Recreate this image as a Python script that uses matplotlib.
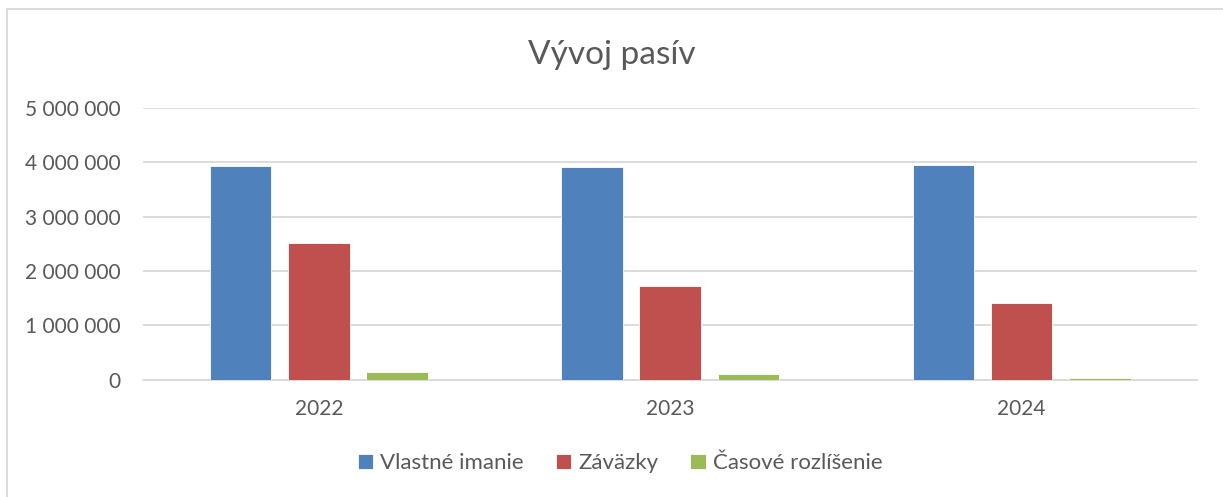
import numpy as np
from matplotlib import pyplot as plt
from matplotlib.patches import Rectangle
from matplotlib.ticker import FuncFormatter

plt.rcParams["font.family"] = ["Lato", "DejaVu Sans"]

years = ["2022", "2023", "2024"]
series_names = ["Vlastné imanie", "Záväzky", "Časové rozlíšenie"]
vlastne_imanie = [3_930_000, 3_920_000, 3_940_000]
zavazky = [2_510_000, 1_730_000, 1_420_000]
casove_rozlisenie = [140_000, 105_000, 25_000]
colors = ["#4f81bd", "#c0504d", "#9bbb59"]
text_color = "#595959"

fig = plt.figure(figsize=(12.23, 4.97), dpi=100)
ax = fig.add_axes([0.117, 0.236, 0.862, 0.547])

x = np.arange(len(years))
width = 0.175
step = 0.223
for i, (vals, name, col) in enumerate(zip(
        [vlastne_imanie, zavazky, casove_rozlisenie], series_names, colors)):
    ax.bar(x + (i - 1) * step, vals, width, color=col, label=name,
           edgecolor="white", linewidth=0.6, zorder=3)

ax.set_xlim(-0.5, 2.5)
ax.set_ylim(0, 5_000_000)
ax.set_yticks(range(0, 5_000_001, 1_000_000))
ax.yaxis.set_major_formatter(FuncFormatter(lambda v, _: f"{int(v):,}".replace(",", " ")))
ax.set_xticks(x)
ax.set_xticklabels(years)
ax.grid(axis="y", color="#d9d9d9", linewidth=1.3, zorder=0)
for s in ["top", "right", "left"]:
    ax.spines[s].set_visible(False)
ax.spines["bottom"].set_color("#d9d9d9")
ax.spines["bottom"].set_linewidth(1.3)
ax.tick_params(axis="both", length=0, labelsize=15, labelcolor=text_color)
ax.tick_params(axis="y", pad=16)
ax.tick_params(axis="x", pad=14)

fig.text(0.5, 0.89, "Vývoj pasív", ha="center", va="center",
         fontsize=24, color=text_color)

leg = fig.legend(loc="center", bbox_to_anchor=(0.507, 0.068), ncol=3,
                 frameon=False, fontsize=16, handlelength=0.7, handleheight=0.7,
                 handletextpad=0.3, columnspacing=1.45, labelcolor=text_color)

# chart area border
fig.patches.append(Rectangle((7 / 1223, -0.1), 1.2, 1 - 9 / 497 + 0.1,
                             transform=fig.transFigure, fill=False,
                             edgecolor="#d9d9d9", linewidth=1.3))

fig.savefig("out.png", dpi=100)
